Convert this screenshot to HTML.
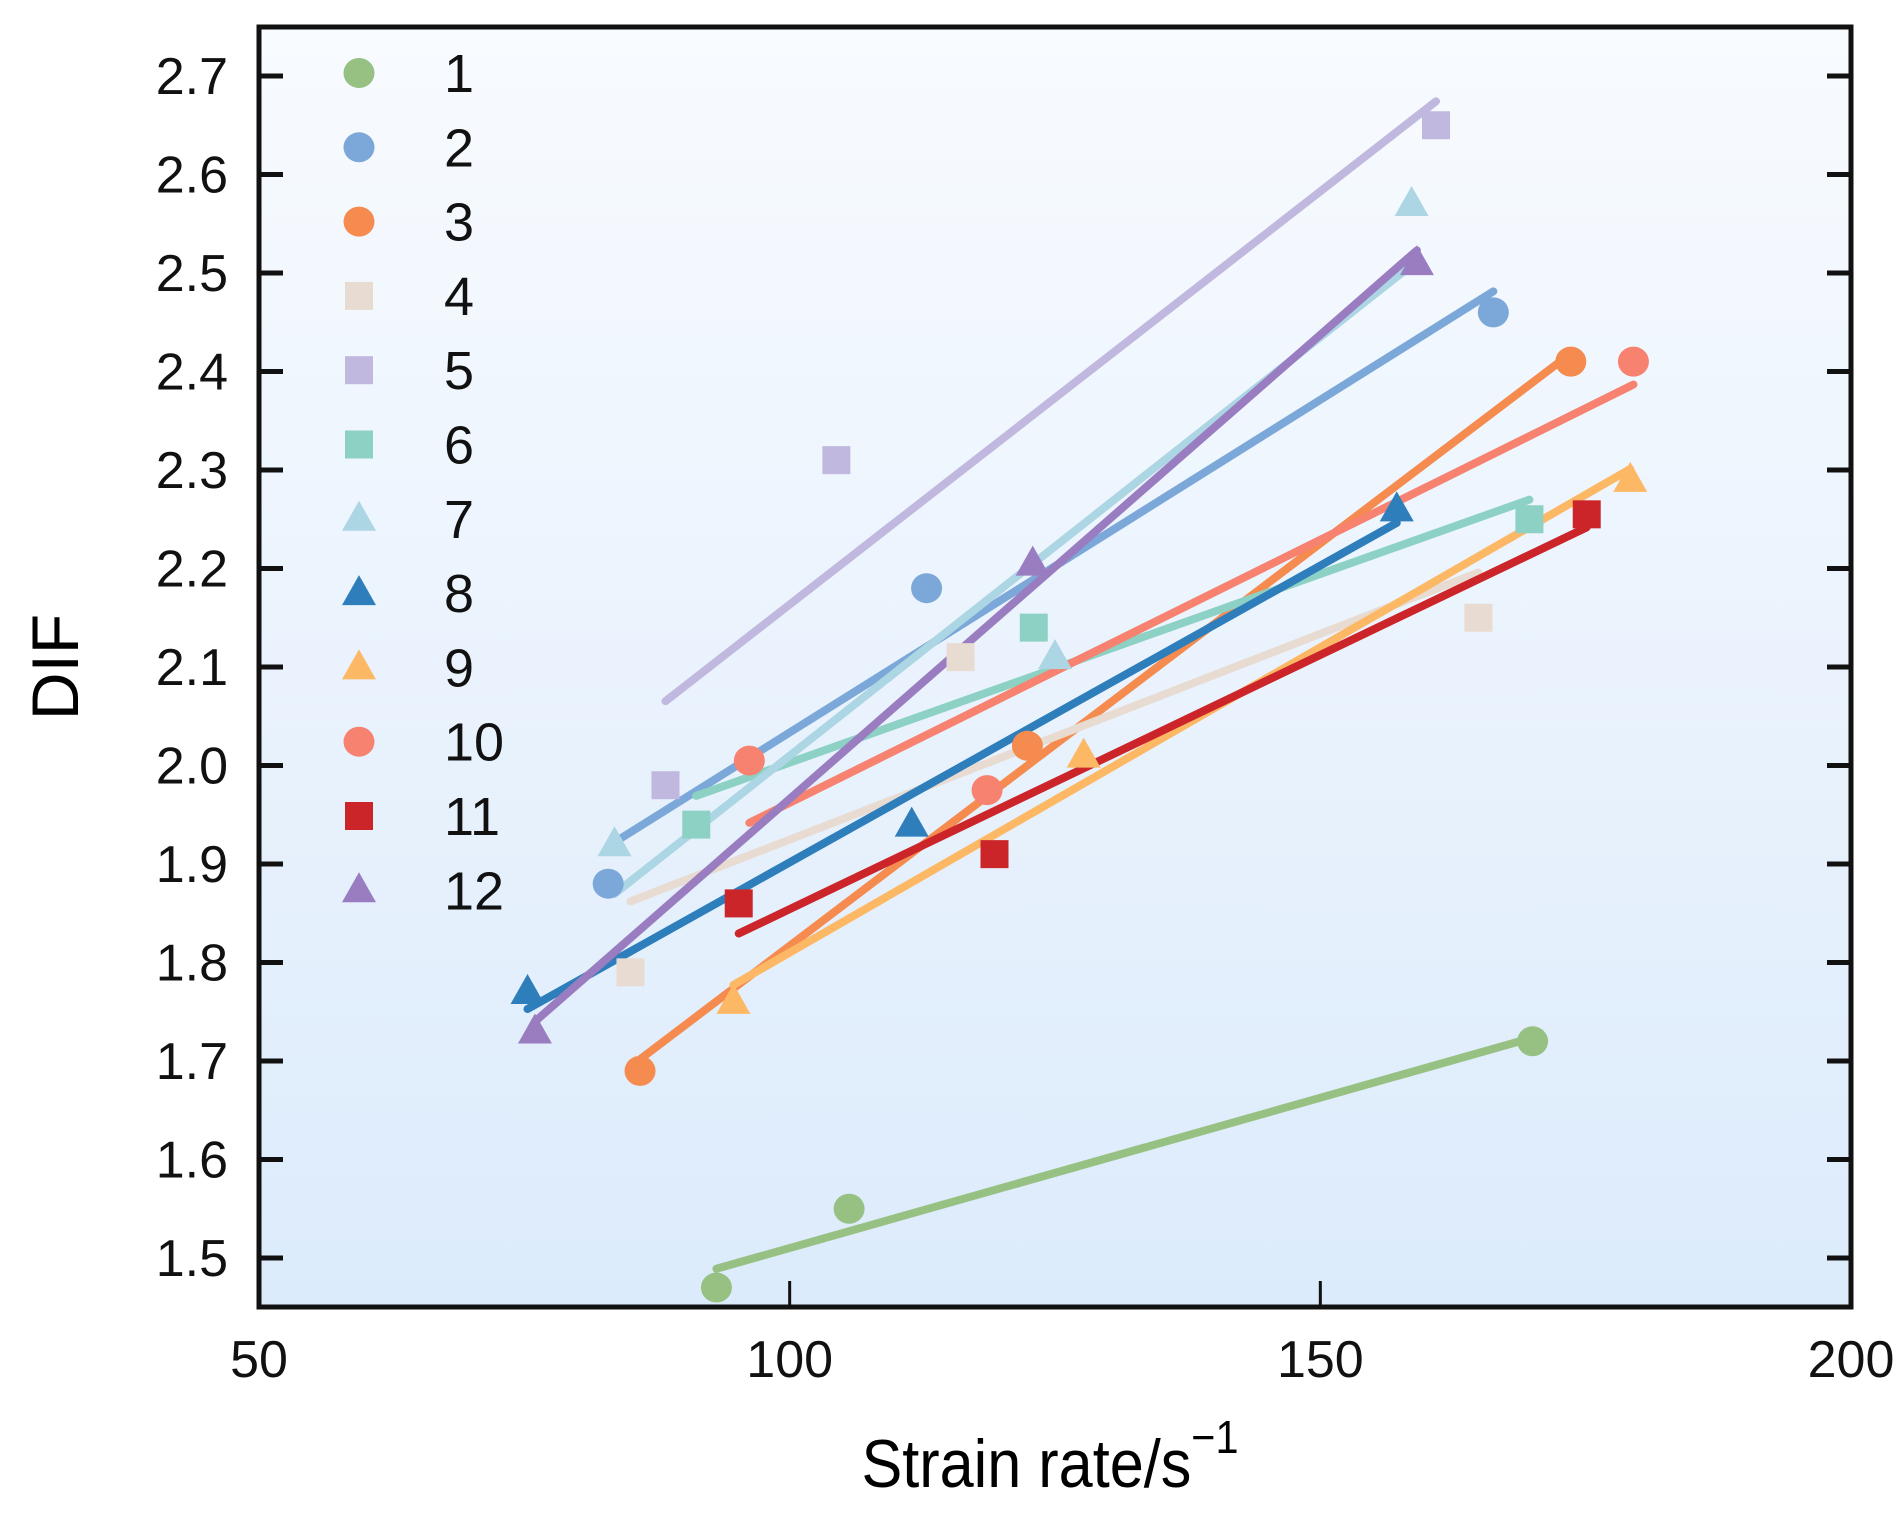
<!DOCTYPE html>
<html><head><meta charset="utf-8"><style>
html,body{margin:0;padding:0;background:#fff;}
svg{display:block;font-family:"Liberation Sans",Arial,sans-serif;}
</style></head><body>
<svg id="chart" width="1904" height="1517" viewBox="0 0 1904 1517">
<defs><linearGradient id="bg" x1="0" y1="0" x2="0" y2="1"><stop offset="0" stop-color="#f8fbff"/><stop offset="1" stop-color="#dcebfb"/></linearGradient></defs>
<rect x="259" y="27" width="1592" height="1280" fill="url(#bg)"/>
<g id="lines"></g><g id="marks"></g><g id="legend"></g><g id="axes"></g>
<text x="1050" y="1487" font-size="68" text-anchor="middle" transform="translate(1050 0) scale(0.9 1) translate(-1050 0)">Strain rate/s<tspan dy="-34" font-size="46">−1</tspan></text>
<text x="0" y="0" font-size="66" text-anchor="middle" transform="translate(78 667) rotate(-90)">DIF</text>
</svg>
<script>
const seriesNames=['1','2','3','4','5','6','7','8','9','10','11','12'];
const seriesColors=['#97c183','#7ba8d8','#f58b4e','#e8dbd1','#c0b8de','#8dd1c4','#acd6e3','#2e7ebc','#fdb866','#f6826f','#cc2529','#9a7cc0'];
const seriesShapes=['circle','circle','circle','square','square','square','tri','tri','tri','circle','square','tri'];
const s1x=[93.1,105.6,170],s1y=[1.47,1.55,1.72];
const s2x=[82.9,112.9,166.3],s2y=[1.88,2.18,2.46];
const s3x=[85.9,122.4,173.6],s3y=[1.69,2.02,2.41];
const s4x=[85,116.1,164.9],s4y=[1.79,2.11,2.15];
const s5x=[88.3,104.4,160.9],s5y=[1.98,2.31,2.65];
const s6x=[91.2,123,169.7],s6y=[1.94,2.14,2.25];
const s7x=[83.5,125,158.6],s7y=[1.92,2.11,2.57];
const s8x=[75.3,111.5,157.2],s8y=[1.77,1.94,2.26];
const s9x=[94.7,127.7,179.2],s9y=[1.76,2.01,2.29];
const s10x=[96.2,118.6,179.5],s10y=[2.005,1.975,2.41];
const s11x=[95.2,119.3,175.1],s11y=[1.86,1.91,2.255];
const s12x=[76,122.9,159.1],s12y=[1.73,2.205,2.51];
const xTicks=[50,100,150,200];
const yTicks=[1.5,1.6,1.7,1.8,1.9,2.0,2.1,2.2,2.3,2.4,2.5,2.6,2.7];
const yTickLabels=['1.5','1.6','1.7','1.8','1.9','2.0','2.1','2.2','2.3','2.4','2.5','2.6','2.7'];

const XS=[s1x,s2x,s3x,s4x,s5x,s6x,s7x,s8x,s9x,s10x,s11x,s12x];
const YS=[s1y,s2y,s3y,s4y,s5y,s6y,s7y,s8y,s9y,s10y,s11y,s12y];
const L=259,R=1851,T=27,B=1307;
const sx=v=>L+(v-50)/150*(R-L);
const sy=v=>1258-(v-1.5)/0.1*98.5;
const NS='http://www.w3.org/2000/svg';
function mk(tag,attrs,parent){const e=document.createElementNS(NS,tag);for(const k in attrs)e.setAttribute(k,attrs[k]);parent.appendChild(e);return e;}
function marker(shape,cx,cy,color,parent){
  let e;
  if(shape==='circle')e=mk('ellipse',{cx:cx,cy:cy,rx:15.5,ry:15,fill:color},parent);
  else if(shape==='square')e=mk('rect',{x:cx-14,y:cy-14,width:28,height:28,fill:color},parent);
  else e=mk('polygon',{points:`${cx},${cy-18} ${cx+17},${cy+12} ${cx-17},${cy+12}`,fill:color},parent);
  return e;
}
const gl=document.getElementById('lines'),gm=document.getElementById('marks');
XS.forEach((xs,i)=>{
  const ys=YS[i],n=xs.length;
  const mx=xs.reduce((a,b)=>a+b)/n,my=ys.reduce((a,b)=>a+b)/n;
  let num=0,den=0;xs.forEach((x,j)=>{num+=(x-mx)*(ys[j]-my);den+=(x-mx)*(x-mx);});
  const k=num/den,x0=Math.min(...xs),x1=Math.max(...xs);
  const ln=mk('line',{x1:sx(x0),y1:sy(my+k*(x0-mx)),x2:sx(x1),y2:sy(my+k*(x1-mx)),stroke:seriesColors[i],'stroke-width':8,'stroke-linecap':'round'},gl);
  
  
});
XS.forEach((xs,i)=>{
  xs.forEach((x,j)=>{
    const e=marker(seriesShapes[i],sx(x),sy(YS[i][j]),seriesColors[i],gm);
    
    
  });
});
const lg=document.getElementById('legend');
seriesNames.forEach((nm,i)=>{
  const y=73+74.3*i;
  const e=marker(seriesShapes[i],359,y,seriesColors[i],lg);
  
  
  const t=mk('text',{x:444,y:y+19,'font-size':54,fill:'#111'},lg);
  t.textContent=nm;
  
  
});
const ga=document.getElementById('axes');
const fr=mk('rect',{x:L,y:T,width:R-L,height:B-T,fill:'none',stroke:'#111','stroke-width':5},ga);


yTicks.forEach((v,i)=>{
  const y=sy(v);
  const t1=mk('line',{x1:L,y1:y,x2:L+24,y2:y,stroke:'#111','stroke-width':5},ga);
  
  
  const t2=mk('line',{x1:R,y1:y,x2:R-24,y2:y,stroke:'#111','stroke-width':5},ga);
  
  
  const tx=mk('text',{x:228,y:y+18,'font-size':52,'text-anchor':'end',fill:'#111'},ga);
  tx.textContent=yTickLabels[i];
  
  
});
xTicks.forEach(v=>{
  const x=sx(v);
  const t1=mk('line',{x1:x,y1:B,x2:x,y2:B-26,stroke:'#111','stroke-width':3},ga);
  
  
  const tx=mk('text',{x:x,y:1377,'font-size':52,'text-anchor':'middle',fill:'#111'},ga);
  tx.textContent=String(v);
  
  
});
</script>
</body></html>
